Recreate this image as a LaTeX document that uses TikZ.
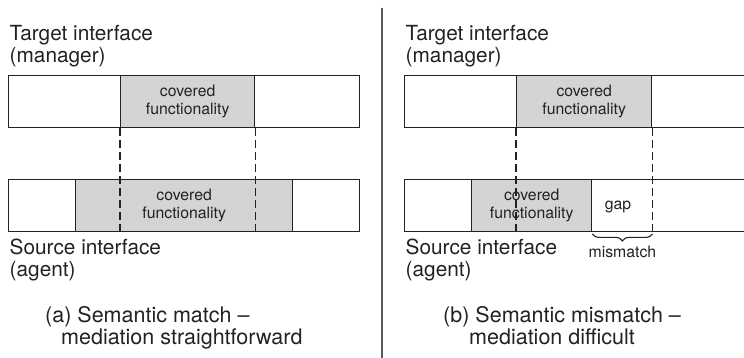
\documentclass[tikz,border=0pt]{standalone}
\usepackage{fontspec}
\setmainfont{TeX Gyre Heros}
\usetikzlibrary{decorations.pathreplacing,positioning}
\definecolor{ifInk}{HTML}{222222}
\definecolor{ifFill}{HTML}{D4D4D4}
\definecolor{ifRule}{HTML}{5A5A5A}
\tikzset{
  if diagram/.style={x=1pt, y=-1pt, line join=miter},
  if bar/.style={draw=ifInk, fill=white, line width=1.4pt, inner sep=0pt,
    minimum height=52pt, anchor=north west},
  if covered/.style={if bar, fill=ifFill, align=center, text=ifInk,
    font=\fontsize{15.8}{18}\selectfont},
  if guide/.style={draw=ifInk, line width=1.1pt, dash pattern=on 8pt off 4pt},
  if label/.style={font=\fontsize{20.8}{22}\selectfont, align=left,
    inner sep=0pt, text=ifInk},
  if caption/.style={if label, font=\fontsize{21.5}{22}\selectfont},
  if small/.style={font=\fontsize{15.8}{18}\selectfont, inner sep=0pt, text=ifInk},
  if brace/.style={draw=ifInk, line width=1.1pt, decorate,
    decoration={brace, mirror, amplitude=7pt, raise=1.5pt}},
  if divider/.style={draw=ifRule, line width=1.5pt}
}
\begin{document}
\begin{tikzpicture}[if diagram]
\useasboundingbox (0,0) rectangle (744,358);
\clip (0,0) rectangle (744,358);
% (a) semantic match
\node[if bar, minimum width=351pt] (tgtA) at (8,75) {};
\node[if covered, minimum width=134pt] (covTA) at (120,75) {covered\\functionality};
\node[if bar, minimum width=351pt] (srcA) at (8,179) {};
\node[if covered, minimum width=217pt] (covSA) at (75,179) {covered\\functionality};
\draw[if guide] (covTA.south west) -- (covTA.south west |- srcA.south);
\draw[if guide] (covTA.south east) -- (covTA.south east |- srcA.south);
\node[if label, anchor=south west] (tgtLblA) at (9.5,67.5) {Target interface\\(manager)};
\node[if label, anchor=north west] (srcLblA) at (9.5,238.8) {Source interface\\(agent)};
\node[if caption, anchor=north west] (capA) at (45,306) {(a) Semantic match --\\\hspace*{16pt}mediation straightforward};
% divider
\coordinate (divTop) at (382,8);
\coordinate (divBot) at (382,358);
\draw[if divider] (divTop) -- (divBot);
% (b) semantic mismatch
\node[if bar, minimum width=346pt] (tgtB) at (404,75) {};
\node[if covered, minimum width=135pt] (covTB) at (516,75) {covered\\functionality};
\node[if bar, minimum width=346pt] (srcB) at (404,179) {};
\node[if covered, minimum width=120pt] (covSB) at (471,179) {covered\\functionality};
\node[if small] (gapB) at (618,207) {gap};
\draw[if guide] (covTB.south west) -- (covTB.south west |- srcB.south);
\draw[if guide] (covTB.south east) -- (covTB.south east |- srcB.south);
\coordinate (gapEnd) at (covTB.south east |- srcB.south);
\draw[if brace] (covSB.south east) -- (gapEnd) node[midway, below=13pt, if small] (mmB) {mismatch};
\node[if label, anchor=south west] (tgtLblB) at (405.5,67.5) {Target interface\\(manager)};
\node[if label, anchor=north west] (srcLblB) at (405.5,238.8) {Source interface\\(agent)};
\node[if caption, anchor=north west] (capB) at (443,306) {(b) Semantic mismatch --\\\hspace*{26pt}mediation difficult};
\end{tikzpicture}
\end{document}
